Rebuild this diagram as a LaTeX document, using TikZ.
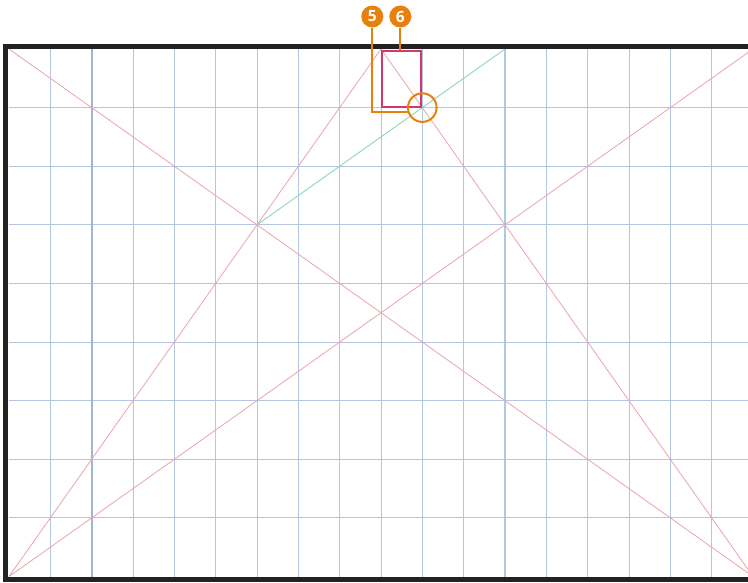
\documentclass[tikz,border=0pt]{standalone}
\usepackage{fontspec}
\setsansfont{Open Sans}
\definecolor{gridblue}{HTML}{B4C6E2}
\definecolor{gridblue2}{HTML}{9FB4D8}
\definecolor{gridgray}{HTML}{BFC3CA}
\definecolor{gridteal}{HTML}{AACCDD}
\definecolor{diagred}{HTML}{EBA4AC}
\definecolor{diagteal}{HTML}{8FD4C0}
\definecolor{calloutorange}{HTML}{E8800E}
\definecolor{boxmagenta}{HTML}{D4376F}
\definecolor{framedark}{HTML}{222222}
\tikzset{
  gridline/.style={draw=gridblue, line width=0.9pt},
  diag/.style={draw=diagred, line width=0.8pt},
  tealdiag/.style={draw=diagteal, line width=0.9pt},
  leader/.style={draw=calloutorange, line width=2pt},
  badge/.style={circle, fill=calloutorange, minimum size=22pt, inner sep=0pt,
    text=white, font=\sffamily\bfseries\fontsize{15.5}{15.5}\selectfont},
}
\begin{document}
\begin{tikzpicture}[x=1pt,y=-1pt]
\useasboundingbox (0,0) rectangle (748,582);
\clip (0,0) rectangle (748,582);
\fill[white] (0,0) rectangle (748,582);
% corners of the page area
\coordinate (TL) at (9,49);
\coordinate (TR) at (753,49);
\coordinate (BL) at (9,576.5);
\coordinate (BR) at (753,576.5);
\coordinate (TM) at (381,49);
\coordinate (P) at (257,224.8);
\coordinate (Q) at (505,49);
\coordinate (C) at (422.3,107.6);
% grid
\foreach \i in {1,...,17} {
  \draw[gridline] ({9+\i*41.333},49) -- ({9+\i*41.333},576.5);
}
\foreach \j in {1,...,8} {
  \draw[gridline] (9,{49+\j*58.61}) -- (753,{49+\j*58.61});
}
\draw[draw=gridblue2, line width=1.6pt] (91.7,49) -- (91.7,576.5);
\draw[draw=gridgray, line width=1pt] (381,49) -- (381,576.5);
\draw[draw=gridteal, line width=1.1pt] (Q) -- (505,576.5);
% diagonals
\draw[diag] (TL) -- (BR);
\draw[diag] (BL) -- (TR);
\draw[diag] (BL) -- (TM);
\draw[diag] (TM) -- (BR);
\draw[tealdiag] (P) -- (Q);
% frame
\draw[framedark, line width=5.5pt] (5.6,46.4) rectangle (760,579.6);
% magenta box
\draw[boxmagenta, line width=2.2pt] (381.8,51) rectangle (420.8,107);
% orange circle marker
\draw[calloutorange, line width=2pt] (C) circle (14.3pt);
% callouts
\node[badge] (b5) at (372.3,16.5) {5};
\node[badge] (b6) at (400.3,16.5) {6};
\coordinate (l5) at (407.6,112);
\draw[leader] (b5.south) -- (b5.south |- l5) -- (l5);
\draw[leader] (b6.south) -- (400.3,49.5);
\end{tikzpicture}
\end{document}
